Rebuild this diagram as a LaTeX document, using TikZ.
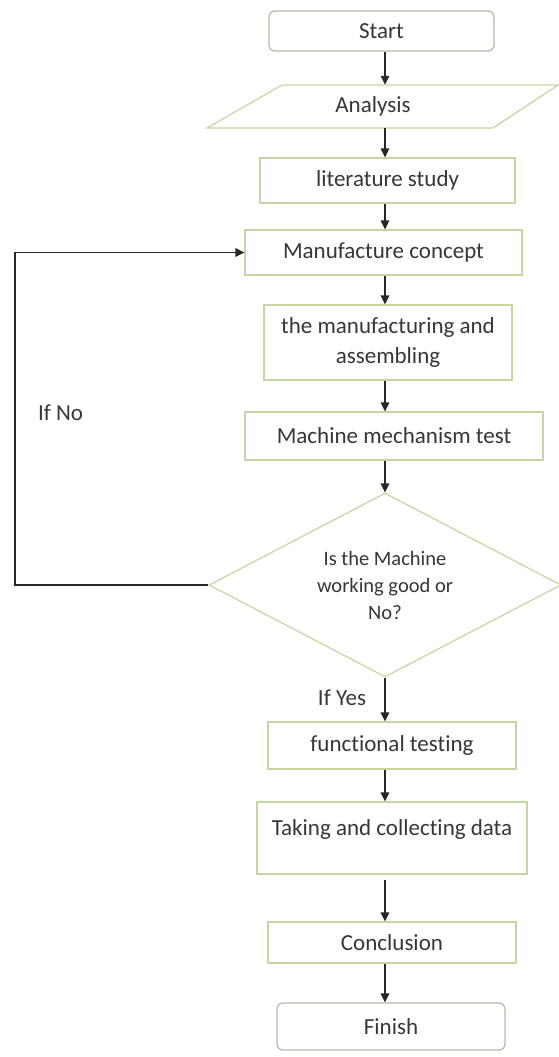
\documentclass[tikz,border=0pt]{standalone}
\usepackage{fontspec}
\setmainfont{Carlito}[Ligatures=NoCommon]
\usetikzlibrary{arrows.meta,shapes.geometric}
\definecolor{boxline}{RGB}{196,214,162}
\definecolor{termline}{RGB}{180,186,170}
\definecolor{txt}{RGB}{55,55,55}
\definecolor{wire}{RGB}{40,40,40}
\begin{document}
\begin{tikzpicture}[x=1pt,y=-1pt,
  box/.style={draw=boxline, line width=1.2pt, fill=white, inner sep=0pt,
    text=txt, font=\fontsize{23}{30}\selectfont, align=center},
  term/.style={box, draw=termline, rounded corners=6pt},
  plain/.style={inner sep=0pt, text=txt, font=\fontsize{23}{30}\selectfont, align=center},
  arr/.style={draw=wire, line width=1.4pt, -{Triangle[length=9pt,width=8.5pt]}}]
\useasboundingbox (0,0) rectangle (559,1057);
\coordinate (ax) at (385,0);
\coordinate (loopx) at (15,0);
% shapes
\node[term, minimum width=225pt, minimum height=40pt] (start) at (381.5,31) {Start};
\draw[boxline, line width=1.2pt, fill=white] (207,128) -- (282,85) -- (558,85) -- (493,128) -- cycle;
\node[plain, minimum width=250pt, minimum height=43pt] (analysis) at (373,106.5) {Analysis};
\node[box, minimum width=255pt, minimum height=45pt] (lit) at (387.5,180.5) {literature study};
\node[box, minimum width=277pt, minimum height=45pt] (manc) at (383.5,252.5) {Manufacture concept};
\node[box, minimum width=248pt, minimum height=75pt] (mfg) at (388,342.5) {the manufacturing and\\assembling};
\node[box, minimum width=298pt, minimum height=48pt] (mtest) at (394,436) {Machine mechanism test};
\node[box, shape=diamond, aspect=2, minimum width=352pt, minimum height=184pt,
  font=\fontsize{20.5}{27}\selectfont] (dec) at (385,585) {Is the Machine\\working good or\\No?};
\node[box, minimum width=248pt, minimum height=47pt] (func) at (392,745.5) {functional testing};
\node[box, minimum width=270pt, minimum height=72pt, text height=15.5pt, text depth=21pt] (taking) at (392,838) {Taking and collecting data};
\node[box, minimum width=248pt, minimum height=41pt] (concl) at (392,942.5) {Conclusion};
\node[term, minimum width=228pt, minimum height=47pt] (finish) at (391,1026.5) {Finish};
% labels
\node[plain] (ifno) at (60.5,413) {If No};
\node[plain] (ifyes) at (342,698) {If Yes};
% connectors
\draw[arr] (start.south -| ax) -- (analysis.north -| ax);
\draw[arr] (analysis.south -| ax) -- (lit.north -| ax);
\draw[arr] (lit.south -| ax) -- (manc.north -| ax);
\draw[arr] (manc.south -| ax) -- (mfg.north -| ax);
\draw[arr] (mfg.south -| ax) -- (mtest.north -| ax);
\draw[arr] (mtest.south -| ax) -- (dec.north);
\draw[arr] (dec.south) -- (func.north -| ax);
\draw[arr] (func.south -| ax) -- (taking.north -| ax);
\draw[arr, shorten <=5pt] (taking.south -| ax) -- (concl.north -| ax);
\draw[arr] (concl.south -| ax) -- (finish.north -| ax);
\draw[arr] (dec.west) -- (dec.west -| loopx) |- (manc.west);
\end{tikzpicture}
\end{document}
